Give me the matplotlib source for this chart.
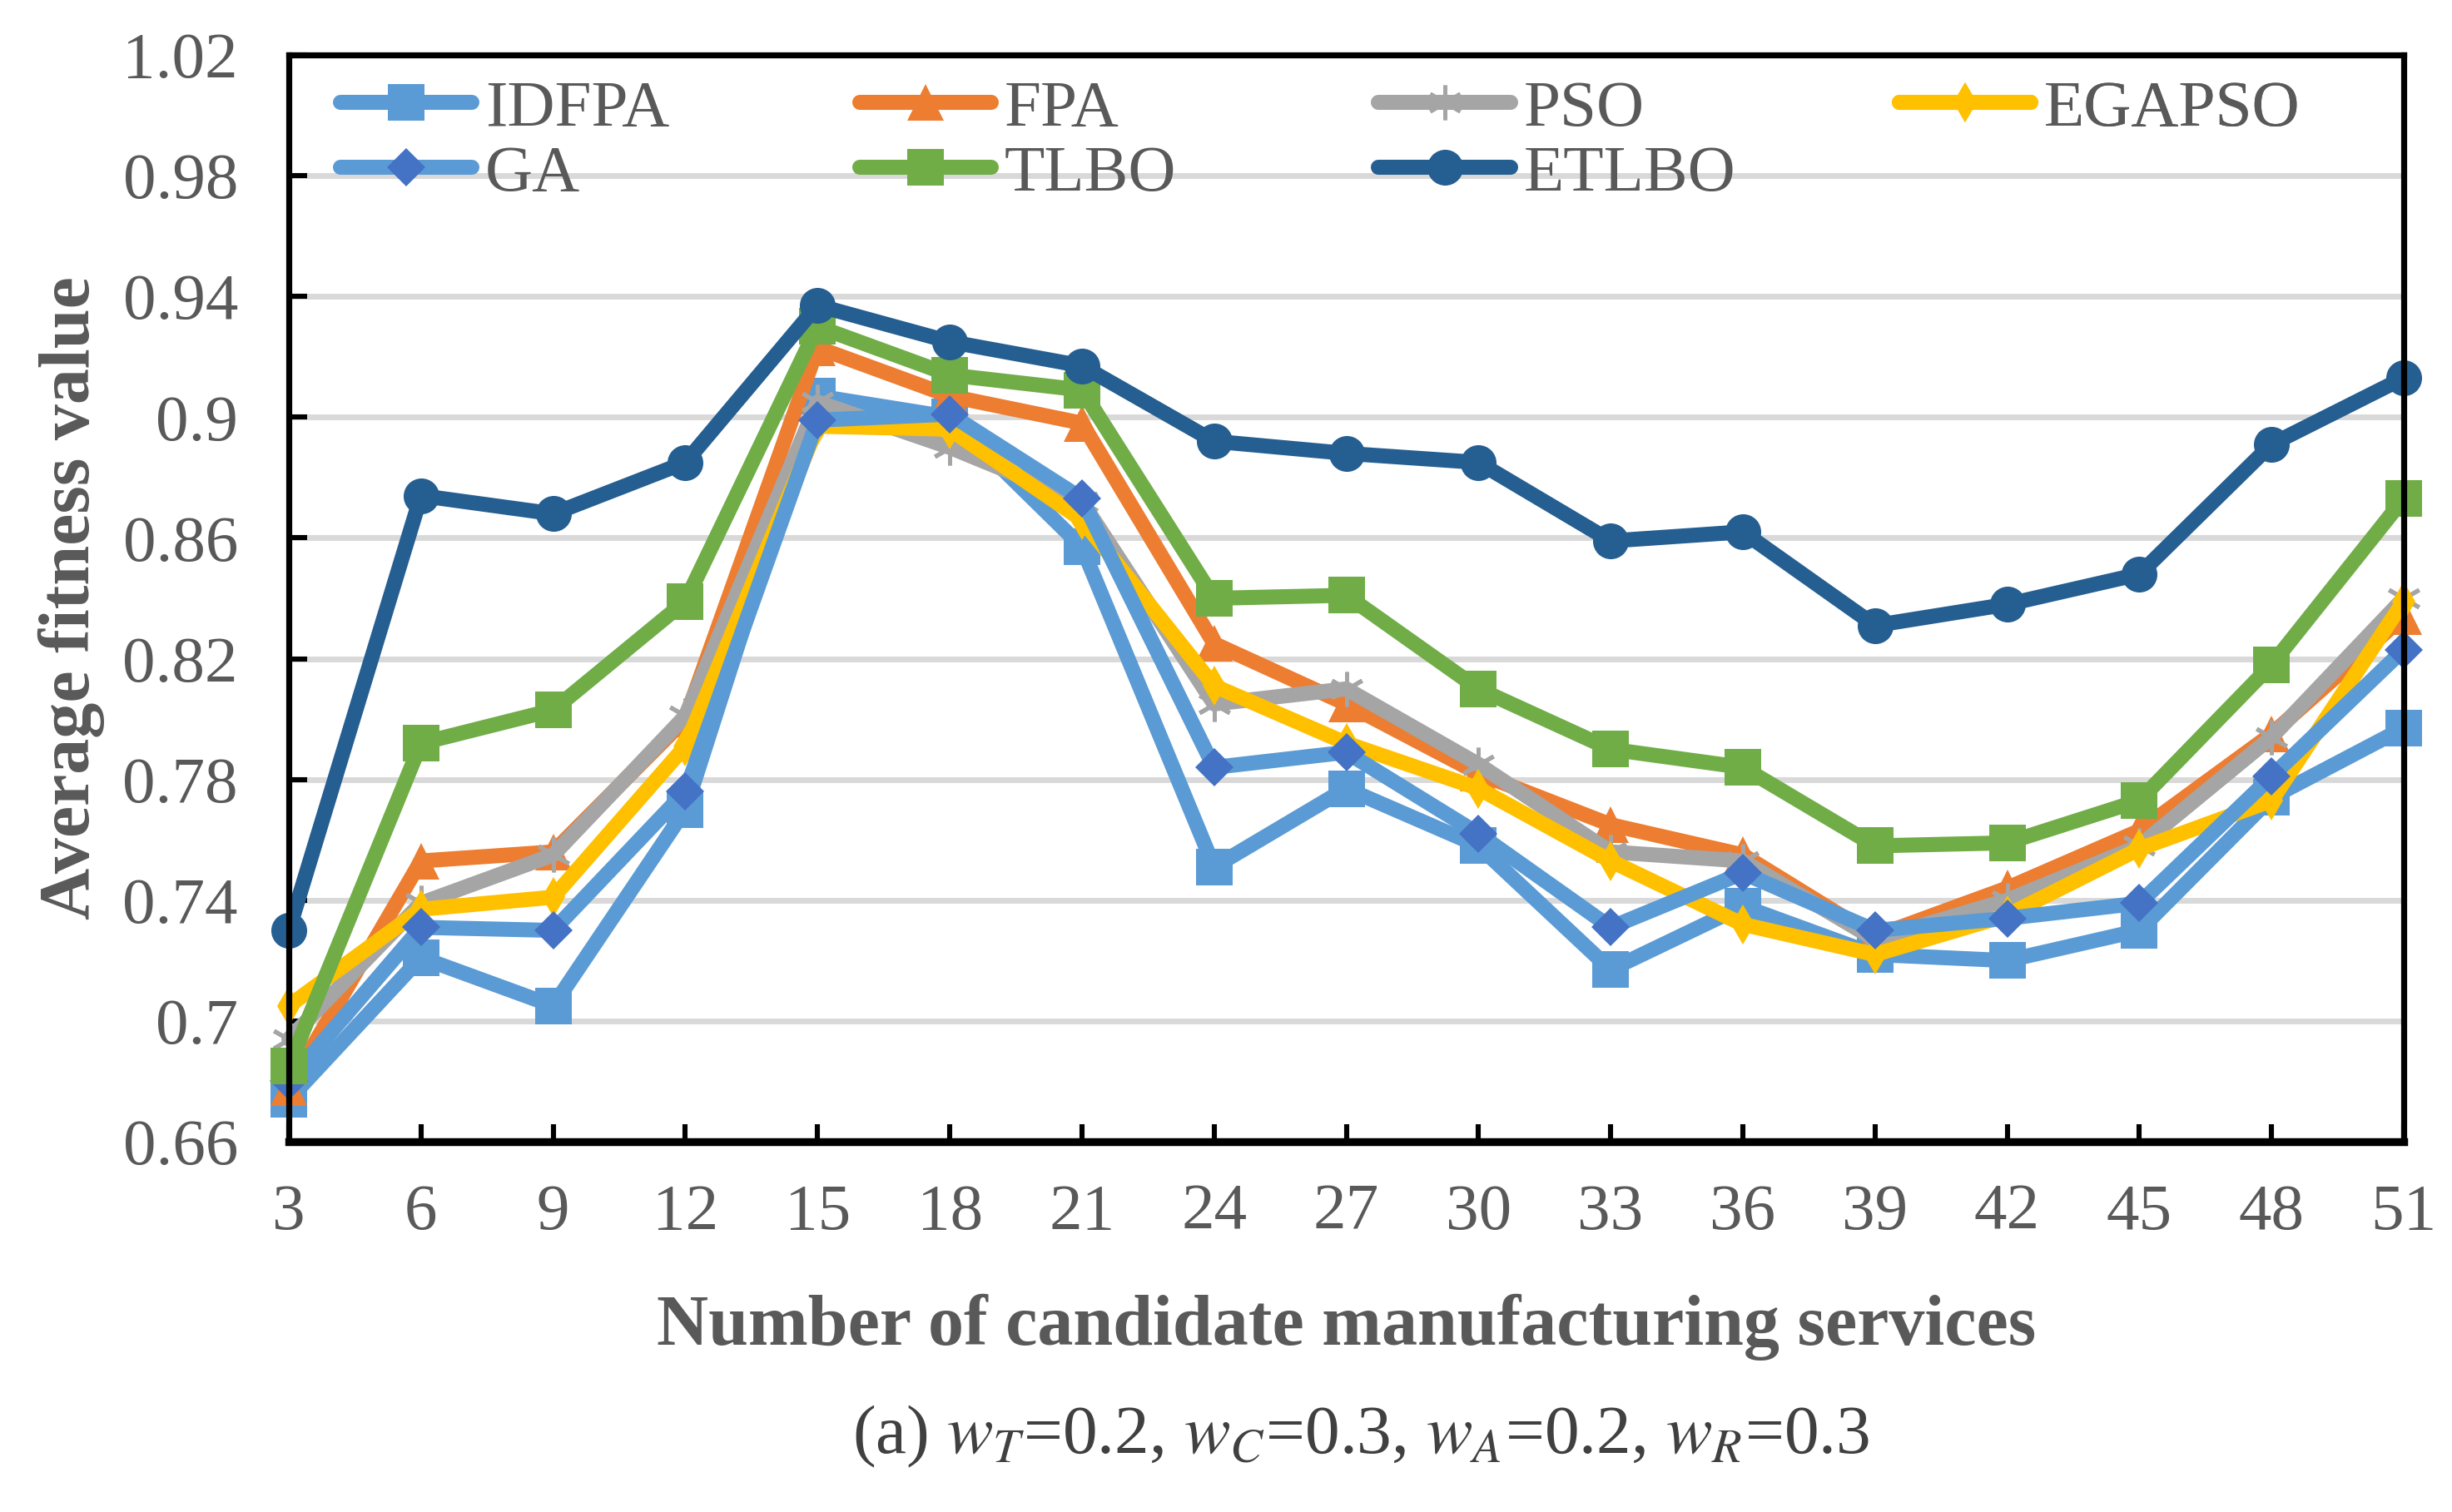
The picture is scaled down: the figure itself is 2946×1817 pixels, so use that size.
import numpy as np
import matplotlib
matplotlib.use("Agg")
import matplotlib.pyplot as plt

plt.rcParams['font.family'] = ['Liberation Serif', 'DejaVu Serif']
plt.rcParams['mathtext.fontset'] = 'stix'

# number of candidate manufacturing services
n_services = [3, 6, 9, 12, 15, 18, 21, 24, 27, 30, 33, 36, 39, 42, 45, 48, 51]

# average fitness values
idfpa = [0.674, 0.721, 0.705, 0.770, 0.907, 0.900, 0.857, 0.751, 0.777, 0.758, 0.717, 0.738, 0.722, 0.720, 0.730, 0.774, 0.797]
fpa = [0.678, 0.753, 0.756, 0.800, 0.923, 0.907, 0.898, 0.825, 0.805, 0.782, 0.765, 0.755, 0.728, 0.744, 0.763, 0.795, 0.834]
pso = [0.694, 0.739, 0.755, 0.801, 0.905, 0.890, 0.872, 0.805, 0.810, 0.785, 0.756, 0.753, 0.727, 0.740, 0.758, 0.794, 0.840]
egapso = [0.705, 0.737, 0.741, 0.791, 0.897, 0.896, 0.866, 0.811, 0.792, 0.777, 0.753, 0.732, 0.722, 0.735, 0.757, 0.773, 0.839]
ga = [0.680, 0.731, 0.730, 0.776, 0.899, 0.901, 0.873, 0.784, 0.789, 0.762, 0.731, 0.749, 0.730, 0.734, 0.739, 0.781, 0.823]
tlbo = [0.685, 0.792, 0.803, 0.839, 0.930, 0.914, 0.909, 0.840, 0.841, 0.810, 0.790, 0.784, 0.758, 0.759, 0.773, 0.818, 0.873]
etlbo = [0.730, 0.874, 0.868, 0.885, 0.937, 0.925, 0.917, 0.892, 0.888, 0.885, 0.859, 0.862, 0.831, 0.838, 0.848, 0.891, 0.913]

y_ticks = [0.66, 0.7, 0.74, 0.78, 0.82, 0.86, 0.9, 0.94, 0.98, 1.02]
y_tick_labels = ['0.66', '0.7', '0.74', '0.78', '0.82', '0.86', '0.9', '0.94', '0.98', '1.02']

gray_txt = '#595959'

fig = plt.figure(figsize=(14.73, 9.085), dpi=200)
ax = fig.add_axes([0.1178, 0.2449, 0.8625, 0.7188])

lw = 6.5
# (label, data, line colour, marker, marker colour, marker size)
series = [
    ('IDFPA', idfpa, '#5B9BD5', 's', '#5B9BD5', 16),
    ('FPA', fpa, '#ED7D31', '^', '#ED7D31', 16),
    ('PSO', pso, '#A5A5A5', (6, 2, 0), '#A5A5A5', 15),
    ('EGAPSO', egapso, '#FFC000', 'd', '#FFC000', 12),
    ('GA', ga, '#5B9BD5', 'D', '#4472C4', 11.5),
    ('TLBO', tlbo, '#70AD47', 's', '#70AD47', 16),
    ('ETLBO', etlbo, '#255E91', 'o', '#255E91', 15.5),
]

handles = {}
for i, (name, vals, col, mk, mcol, ms) in enumerate(series):
    mew = 1.8 if name == 'PSO' else 0
    h, = ax.plot(n_services, vals, color=col, lw=lw, marker=mk, ms=ms,
                 markerfacecolor=mcol, markeredgecolor=mcol, markeredgewidth=mew,
                 solid_joinstyle='round', solid_capstyle='round', label=name,
                 zorder=3 + i, clip_on=False)
    handles[name] = h

ax.set_xlim(3, 51)
ax.set_ylim(0.66, 1.02)
ax.set_xticks(n_services)
ax.set_xticklabels([str(v) for v in n_services])
ax.set_yticks(y_ticks)
ax.set_yticklabels(y_tick_labels)

ax.yaxis.grid(True, color='#D9D9D9', lw=2.5, zorder=0)
ax.set_axisbelow(True)

for s in ['left', 'top', 'right']:
    ax.spines[s].set_linewidth(2.6)
ax.spines['bottom'].set_linewidth(3.4)
for s in ax.spines.values():
    s.set_color('black')
    s.set_zorder(20)

ax.tick_params(axis='both', direction='in', colors='black', labelcolor=gray_txt,
               labelsize=28.5, width=2.2, length=7.5)
ax.tick_params(axis='x', pad=18)
ax.tick_params(axis='y', pad=22, length=8)

ax.set_xlabel('Number of candidate manufacturing services', fontsize=31,
              fontweight='bold', color=gray_txt)
ax.xaxis.set_label_coords(0.5, -0.14)
ax.set_ylabel('Average fitness value', fontsize=31, fontweight='bold', color=gray_txt)
ax.yaxis.set_label_coords(-0.087, 0.5)

# Excel-style legend: fixed column positions, one small legend per column
leg_cols = [['IDFPA', 'GA'], ['FPA', 'TLBO'], ['PSO', 'ETLBO'], ['EGAPSO']]
leg_x = [0.0243, 0.2698, 0.5153, 0.7615]
for names, lx in zip(leg_cols, leg_x):
    leg = ax.legend([handles[k] for k in names], names, loc='upper left',
                    bbox_to_anchor=(lx, 0.9776), frameon=False, fontsize=28.5,
                    handlelength=2.0, handletextpad=0.2,
                    labelspacing=0.07, borderaxespad=0.0, borderpad=0.0)
    for t in leg.get_texts():
        t.set_color(gray_txt)
    leg.set_zorder(30)
    ax.add_artist(leg)

fig.text(0.555, 0.05, r'(a) $w_T$=0.2, $w_C$=0.3, $w_A$=0.2, $w_R$=0.3',
         ha='center', va='center', fontsize=30, color='#404040')

fig.savefig('out.png', dpi=200)
